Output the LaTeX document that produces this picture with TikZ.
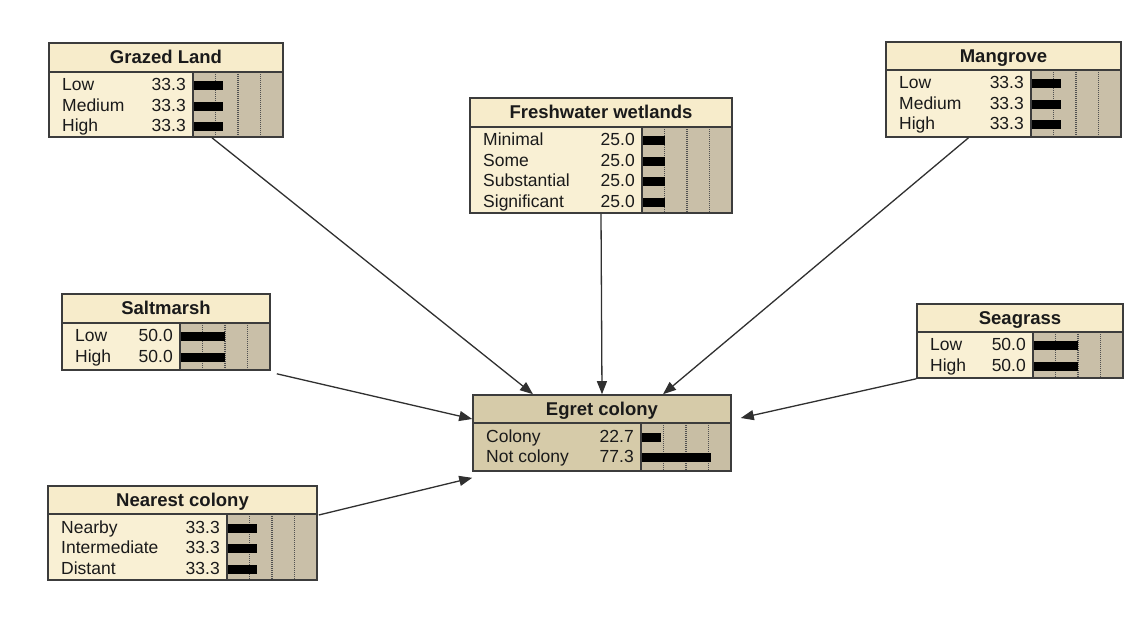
\documentclass[tikz,border=0pt]{standalone}
\usepackage{fontspec}
\setmainfont{Liberation Sans}
\usetikzlibrary{arrows.meta,calc,fit}

% palettes: ordinary nodes and the queried node
\definecolor{plainTitle}{HTML}{F7ECCB}
\definecolor{plainBody}{HTML}{F9F0D4}
\definecolor{plainBar}{HTML}{C9BFA8}
\definecolor{queryTitle}{HTML}{D6CBA9}
\definecolor{queryBody}{HTML}{D6CBA9}
\definecolor{queryBar}{HTML}{C8BEA4}
\definecolor{framegray}{HTML}{3C3C3C}
\definecolor{linkgray}{HTML}{303030}
\definecolor{inkgray}{HTML}{1A1A1A}

\tikzset{
  titletext/.style={font=\fontsize{18.5}{20}\selectfont\bfseries, anchor=base,
    inner sep=0pt, text=inkgray},
  statetext/.style={font=\fontsize{17.5}{20}\selectfont, inner sep=0pt, text=inkgray},
  gridline/.style={draw=framegray!90, line width=1.1pt, dash pattern=on 1pt off 1pt},
  sepline/.style={draw=framegray, line width=1.3pt},
  frameline/.style={draw=framegray, line width=1.6pt, inner sep=0pt},
  link/.style={draw=linkgray, line width=1.3pt, -{Triangle[length=13pt,width=10pt]}},
}

% #1 name, #2 left, #3 top, #4 right, #5 title bottom, #6 bottom,
% #7 title, #8 states (label/value), #9 palette
\newcommand{\bnnode}[9]{%
  \pgfmathsetmacro\bnB{#4-90}
  \fill[#9Title] (#2,#3) rectangle (#4,#5);
  \fill[#9Body] (#2,#5) rectangle (\bnB,#6);
  \fill[#9Bar] (\bnB,#5) rectangle (#4,#6);
  \foreach \g in {22.5,45,67.5}
    \draw[gridline] ({\bnB+\g},#5) -- ({\bnB+\g},#6);
  \foreach \lab/\val [count=\i] in {#8} {
    \pgfmathsetmacro\yb{#5+19+20.5*(\i-1)}
    \pgfmathsetmacro\yc{#5+14+20.5*(\i-1)}
    \node[statetext, anchor=base west] (#1-s\i) at ({#2+13},\yb) {\lab};
    \node[statetext, anchor=base east] (#1-v\i) at ({\bnB-7},\yb) {\val};
    \fill[black] (\bnB,{\yc-4.5}) rectangle ({\bnB+0.9*\val},{\yc+4.5});
  }
  \draw[sepline] (#2,#5) -- (#4,#5);
  \draw[sepline] (\bnB,#5) -- (\bnB,#6);
  \node[frameline, fit={(#2,#3) (#4,#6)}] (#1) {};
  \node[titletext] (#1-title) at ({(#2+#4)/2},{(#3+#5)/2+6.5}) {#7};
}

\begin{document}
\begin{tikzpicture}[x=1pt, y=-1pt]
  \fill[white] (0,0) rectangle (1135,617);
  \useasboundingbox (0,0) rectangle (1135,617);

  \bnnode{grazed}{49}{43}{283}{72}{137}{Grazed Land}
    {Low/33.3, Medium/33.3, High/33.3}{plain}
  \bnnode{fresh}{470}{98}{732}{127}{213}{Freshwater wetlands}
    {Minimal/25.0, Some/25.0, Substantial/25.0, Significant/25.0}{plain}
  \bnnode{mangrove}{886}{42}{1121}{70}{137}{Mangrove}
    {Low/33.3, Medium/33.3, High/33.3}{plain}
  \bnnode{saltmarsh}{62}{294}{270}{323}{370}{Saltmarsh}
    {Low/50.0, High/50.0}{plain}
  \bnnode{seagrass}{917}{304}{1123}{332}{378}{Seagrass}
    {Low/50.0, High/50.0}{plain}
  \bnnode{nearest}{48}{486}{317}{514}{580}{Nearest colony}
    {Nearby/33.3, Intermediate/33.3, Distant/33.3}{plain}
  \bnnode{egret}{473}{395}{731}{423}{471}{Egret colony}
    {Colony/22.7, Not colony/77.3}{query}

  % links into the child node
  \draw[link] ($(grazed.south)+(46,0)$) -- ($(egret.north)+(-69,0)$);
  \draw[link] (fresh.south) -- (egret.north);
  \draw[link] ($(mangrove.south)+(-35,0)$) -- ($(egret.north)+(61,0)$);
  \draw[link] ($(saltmarsh.south east)+(6,3)$) -- ($(egret.west)+(0,-14)$);
  \draw[link] (seagrass.south west) -- ($(egret.east)+(9,-15)$);
  \draw[link] ($(nearest.east)+(1,-18)$) -- ($(egret.south west)+(0,6)$);
\end{tikzpicture}
\end{document}
